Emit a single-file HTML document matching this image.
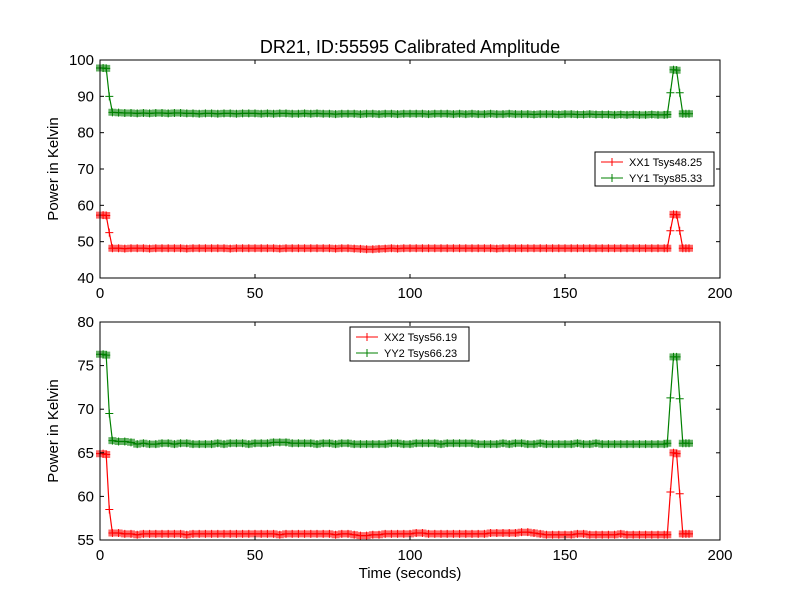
<!DOCTYPE html>
<html><head><meta charset="utf-8"><style>
body{margin:0;background:#fff}
svg{font-family:"Liberation Sans","DejaVu Sans",sans-serif}
</style></head><body>
<svg id="c" width="800" height="600" viewBox="0 0 800 600">
<rect width="800" height="600" fill="#fff"/>
<text x="410" y="53" font-size="18" text-anchor="middle">DR21, ID:55595 Calibrated Amplitude</text>
<g id="top"></g>
<g id="bot"></g>
<text x="410" y="578" font-size="15" text-anchor="middle">Time (seconds)</text>
</svg>
<script>
const times=[0,1,2,3,4,6,8,10,12,14,16,18,20,22,24,26,28,30,32,34,36,38,40,42,44,46,48,50,52,54,56,58,60,62,64,66,68,70,72,74,76,78,80,82,84,86,88,90,92,94,96,98,100,102,104,106,108,110,112,114,116,118,120,122,124,126,128,130,132,134,136,138,140,142,144,146,148,150,152,154,156,158,160,162,164,166,168,170,172,174,176,178,180,182,183,184,185,186,187,188,189,190];
const xx1=[57.3,57.3,57.2,52.5,48.2,48.2,48.1,48.2,48.2,48.2,48.1,48.2,48.2,48.2,48.2,48.2,48.1,48.2,48.2,48.2,48.2,48.2,48.2,48.1,48.2,48.2,48.2,48.2,48.2,48.2,48.2,48.1,48.2,48.2,48.2,48.2,48.2,48.2,48.2,48.2,48.1,48.2,48.2,48.1,48.0,47.9,47.9,48.0,48.1,48.2,48.1,48.2,48.2,48.2,48.2,48.2,48.2,48.2,48.2,48.2,48.2,48.2,48.2,48.2,48.2,48.2,48.1,48.2,48.2,48.2,48.2,48.2,48.2,48.2,48.2,48.2,48.2,48.2,48.2,48.2,48.2,48.2,48.2,48.2,48.2,48.2,48.2,48.2,48.2,48.2,48.2,48.2,48.2,48.2,48.2,53,57.5,57.4,53,48.2,48.2,48.2];
const yy1=[97.8,97.8,97.7,90,85.6,85.5,85.4,85.4,85.3,85.4,85.3,85.4,85.4,85.3,85.4,85.4,85.3,85.3,85.2,85.3,85.3,85.2,85.3,85.3,85.2,85.3,85.3,85.3,85.2,85.3,85.2,85.3,85.3,85.2,85.2,85.3,85.2,85.3,85.2,85.2,85.1,85.2,85.2,85.2,85.1,85.2,85.2,85.1,85.2,85.2,85.1,85.2,85.2,85.2,85.2,85.1,85.2,85.2,85.2,85.1,85.2,85.1,85.2,85.1,85.1,85.2,85.1,85.1,85.2,85.1,85.1,85.1,85.0,85.1,85.1,85.1,85.0,85.1,85.1,85.0,85.0,85.1,85.0,85.0,85.0,84.9,85.0,84.9,85.0,84.9,84.9,85.0,84.9,84.9,85.0,91,97.3,97.2,91,85.2,85.2,85.2];
const xx2=[64.9,64.9,64.8,58.5,55.8,55.8,55.7,55.7,55.6,55.7,55.7,55.7,55.7,55.7,55.7,55.7,55.6,55.7,55.7,55.7,55.7,55.7,55.7,55.7,55.7,55.7,55.7,55.7,55.7,55.7,55.7,55.6,55.7,55.7,55.7,55.7,55.7,55.7,55.7,55.7,55.6,55.7,55.7,55.6,55.5,55.5,55.6,55.6,55.7,55.7,55.7,55.7,55.7,55.8,55.8,55.7,55.7,55.7,55.7,55.7,55.7,55.7,55.7,55.7,55.7,55.8,55.8,55.8,55.8,55.8,55.9,55.9,55.8,55.7,55.6,55.6,55.6,55.6,55.6,55.7,55.7,55.6,55.6,55.6,55.6,55.6,55.7,55.6,55.6,55.6,55.6,55.6,55.6,55.6,55.6,60.5,65.0,64.9,60.3,55.7,55.7,55.7];
const yy2=[76.3,76.3,76.2,69.5,66.4,66.3,66.3,66.2,66.0,66.1,66.0,66.0,66.1,66.1,66.0,66.1,66.1,66.0,66.0,66.0,66.0,66.1,66.0,66.1,66.1,66.1,66.0,66.1,66.1,66.1,66.2,66.2,66.2,66.1,66.1,66.1,66.1,66.0,66.1,66.1,66.0,66.1,66.1,66.0,66.0,66.0,66.0,66.0,66.0,66.1,66.1,66.0,66.0,66.1,66.1,66.1,66.1,66.0,66.1,66.1,66.1,66.1,66.1,66.0,66.0,66.0,66.0,66.1,66.0,66.1,66.1,66.0,66.0,66.1,66.0,66.0,66.0,66.0,66.0,66.1,66.0,66.0,66.1,66.0,66.0,66.0,66.0,66.0,66.0,66.0,66.0,66.0,66.0,66.0,66.1,71.3,76.0,76.0,71.2,66.1,66.1,66.1];
const xTicks=[0,50,100,150,200];
const yTicksTop=[40,50,60,70,80,90,100];
const yTicksBot=[55,60,65,70,75,80];
const legendTop=["XX1 Tsys48.25","YY1 Tsys85.33"];
const legendBot=["XX2 Tsys56.19","YY2 Tsys66.23"];

const NS="http://www.w3.org/2000/svg";
function mk(p,tag,at){const e=document.createElementNS(NS,tag);for(const k in at)e.setAttribute(k,at[k]);p.appendChild(e);return e;}
function panel(g,top,bot,ymin,ymax,yt,series,leg,lx,ly){
  const L=100,R=720;
  const X=t=>L+(t-0)/(200-0)*(R-L);
  const Y=v=>bot-(v-ymin)/(ymax-ymin)*(bot-top);
  series.forEach(([vals,col,name])=>{
    const pts=times.map((t,i)=>X(t).toFixed(1)+","+Y(vals[i]).toFixed(1)).join(" ");
    let bd="";
    times.forEach((t,i)=>{
      const v=vals[i];
      const pv=i>0?vals[i-1]:v, nv=i<vals.length-1?vals[i+1]:v;
      if(Math.abs(pv-v)>2&&Math.abs(nv-v)>2)return;
      const x=X(t),y=Y(v);
      bd+=`M${(x-4).toFixed(1)},${(y-3.5).toFixed(1)}h8v7h-8z`;
    });
    const band=mk(g,"path",{d:bd,fill:col,"fill-opacity":0.6,stroke:"none"});
    
    
    const ln=mk(g,"polyline",{points:pts,fill:"none",stroke:col,"stroke-width":1.2});
    
    
    let d="";
    times.forEach((t,i)=>{const x=X(t),y=Y(vals[i]);d+=`M${x-4},${y}h8M${x},${y-4}v8`;});
    const mp=mk(g,"path",{d:d,stroke:col,"stroke-width":1,fill:"none"});
    
    
  });
  const fr=mk(g,"rect",{x:L,y:top,width:R-L,height:bot-top,fill:"none",stroke:"#000","stroke-width":1});
  
  
  xTicks.forEach(v=>{const x=X(v);
    mk(g,"line",{x1:x,x2:x,y1:bot,y2:bot-4,stroke:"#000"});
    mk(g,"line",{x1:x,x2:x,y1:top,y2:top+4,stroke:"#000"});
    const t=mk(g,"text",{x:x,y:bot+20,"font-size":15,"text-anchor":"middle"});t.textContent=v;
    
    
  });
  yt.forEach(v=>{const y=Y(v);
    mk(g,"line",{x1:L,x2:L+4,y1:y,y2:y,stroke:"#000"});
    mk(g,"line",{x1:R,x2:R-4,y1:y,y2:y,stroke:"#000"});
    const t=mk(g,"text",{x:L-6,y:y+5,"font-size":15,"text-anchor":"end"});t.textContent=v;
    
    
  });
  const yl=mk(g,"text",{x:0,y:0,"font-size":15,"text-anchor":"middle",transform:`translate(${L-42},${(top+bot)/2}) rotate(-90)`});
  yl.textContent="Power in Kelvin";
  
  
  const lg=mk(g,"g",{});
  
  
  mk(lg,"rect",{x:lx,y:ly,width:119,height:34,fill:"#fff",stroke:"#000"});
  leg.forEach((s,i)=>{const y=ly+10+i*16,col=series[i][1];
    mk(lg,"line",{x1:lx+6,x2:lx+28,y1:y,y2:y,stroke:col});
    mk(lg,"path",{d:`M${lx+13},${y}h8M${lx+17},${y-4}v8`,stroke:col});
    const t=mk(lg,"text",{x:lx+34,y:y+4,"font-size":11});t.textContent=s;
    
    
  });
}
panel(document.getElementById("top"),60,278,40,100,yTicksTop,[[xx1,"#ff0000","xx1"],[yy1,"#008000","yy1"]],legendTop,595,152);
panel(document.getElementById("bot"),322,540,55,80,yTicksBot,[[xx2,"#ff0000","xx2"],[yy2,"#008000","yy2"]],legendBot,350,327);
</script>
</body></html>
